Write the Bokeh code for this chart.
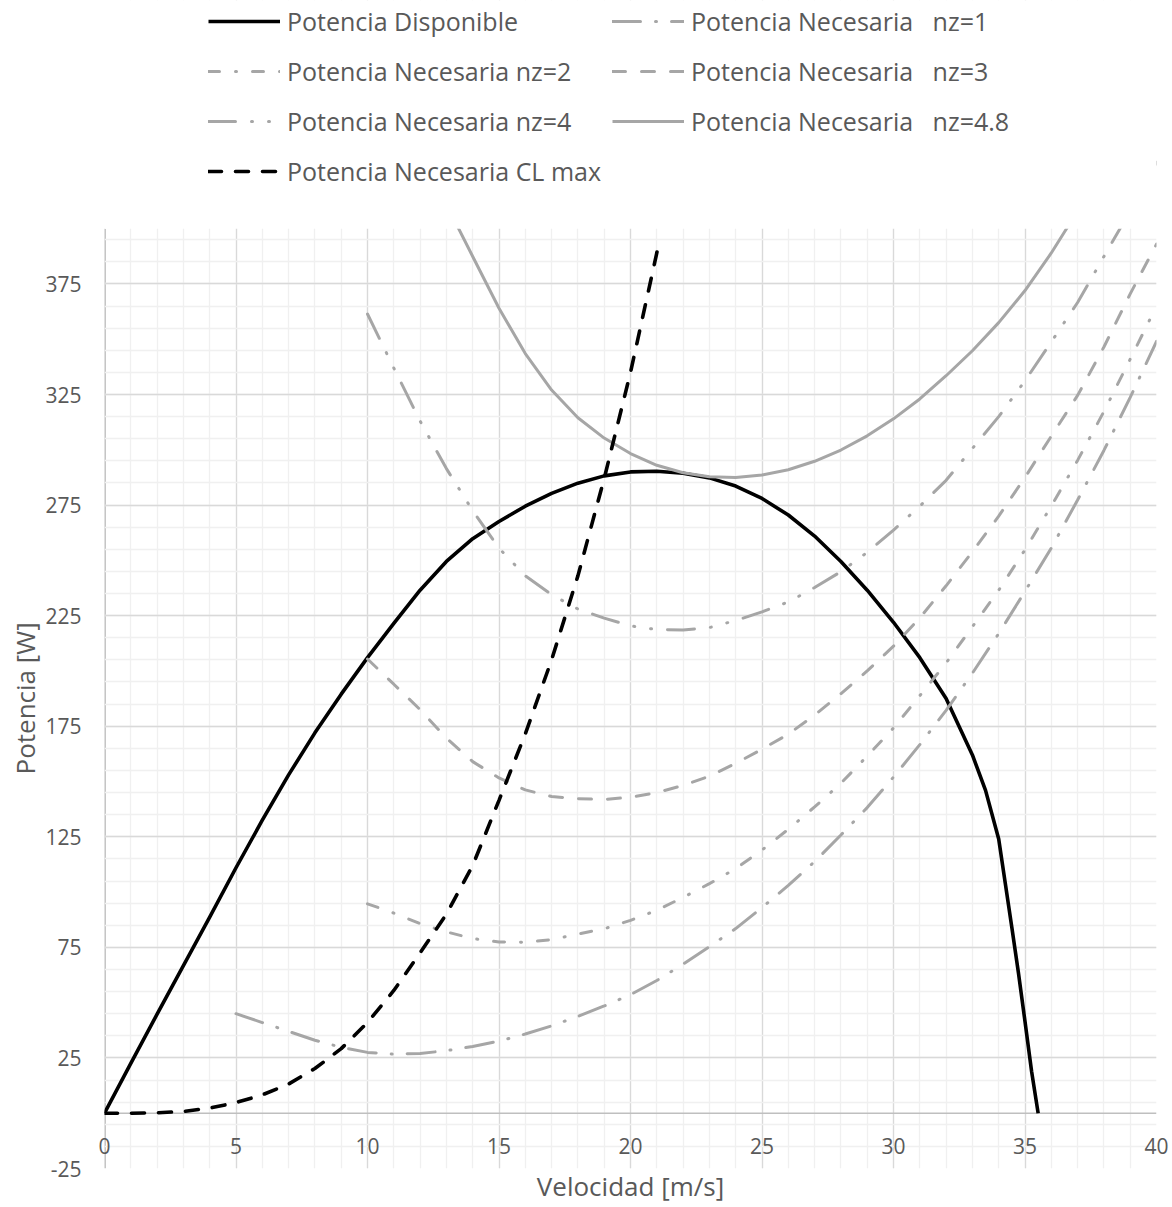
from bokeh.plotting import figure
from bokeh.models import (Range1d, FixedTicker, LinearAxis, Legend, LegendItem, Span,
                          BoxAnnotation, Title)
from bokeh.embed import file_html
from bokeh.resources import INLINE

# ---------------- data ----------------
v_disp = [0, 1, 2, 3, 4, 5, 6, 7, 8, 9, 10, 11, 12, 13, 14, 15, 16, 17, 18, 19, 20,
          21, 22, 23, 24, 25, 26, 27, 28, 29, 30, 31, 32, 33, 33.5, 34, 34.25, 34.5,
          34.75, 35, 35.25, 35.5]
p_disp = [0, 22.5, 44.8, 66.7, 88.7, 111, 132.5, 153, 172, 189.5, 206, 221.5, 236.5,
          249.5, 259.8, 267.6, 274.5, 280.3, 284.9, 288.2, 290, 290.3, 289.4, 287.3,
          283.6, 278, 270.5, 261, 249.5, 236.5, 222, 206, 187.5, 162, 146, 124, 104, 84,
          63.5, 41.5, 19, 0]

v_nz1 = [5, 6, 7, 8, 9, 10, 11, 12, 13, 14, 15, 16, 17, 18, 19, 20, 21, 22, 23, 24, 25,
         26, 27, 28, 29, 30, 31, 32, 33, 34, 35, 36, 37, 38, 39, 40]
p_nz1 = [45, 41, 37, 33, 29.8, 27.5, 26.7, 27, 28.3, 30.2, 32.6, 35.8, 39.5, 43.8, 48.5,
         53.6, 60, 67.4, 75.3, 83.5, 93, 103, 113.8, 125.8, 138.2, 152, 166.7, 182.2, 199,
         216.9, 236, 255.6, 277.3, 299.7, 323.7, 349]

v_nz2 = [10, 11, 12, 13, 14, 15, 16, 17, 18, 19, 20, 21, 22, 23, 24, 25, 26, 27, 28, 29,
         30, 31, 32, 33, 34, 35, 36, 37, 38, 39, 40]
p_nz2 = [94.7, 90.5, 85.7, 82, 79, 77.4, 77.3, 78.5, 81, 83.4, 87.2, 91.8, 97.6, 103.8,
         110.6, 119, 128.4, 138.5, 149.2, 161.5, 174.2, 188.8, 203.6, 220, 236.5, 254.8,
         274.6, 295.2, 317.3, 341, 365]

v_nz3 = [10, 11, 12, 13, 14, 15, 16, 17, 18, 19, 20, 21, 22, 23, 24, 25, 26, 27, 28, 29,
         30, 31, 32, 33, 34, 35, 36, 37, 38, 39, 40]
p_nz3 = [205.4, 194, 182.5, 169.6, 159, 151.6, 146.2, 143.2, 142.2, 141.9, 142.9, 145,
         148.2, 152.4, 158.2, 164.6, 171.4, 180, 189.7, 200, 211.2, 224, 238.5, 253.9,
         270, 287.5, 306.2, 324.6, 346.5, 370.5, 393]

v_nz4 = [10, 11, 12, 13, 14, 15, 16, 17, 18, 19, 20, 21, 22, 23, 24, 25, 26, 27, 28, 29,
         30, 31, 32, 33, 34, 35, 36, 37, 38, 39, 40]
p_nz4 = [361.4, 337, 313, 291.5, 272.5, 255.5, 243, 234.5, 228, 223.9, 220.4, 218.7,
         218.5, 219.6, 222.8, 226.7, 231.2, 237.7, 244.9, 253.6, 263.7, 274.5, 286.2,
         300.6, 315, 331.2, 348.8, 366.6, 387.4, 408, 430]

v_nz48 = [13, 14, 15, 16, 17, 18, 19, 20, 21, 22, 23, 24, 25, 26, 27, 28, 29, 30, 31, 32,
          33, 34, 35, 36, 37]
p_nz48 = [411, 387.4, 364, 343.5, 327, 314.5, 305.3, 298.3, 293, 289.6, 287.8, 287.5,
          288.6, 291, 294.8, 299.9, 306.3, 314, 323, 333.5, 344.8, 357.5, 372, 389, 408]

v_clmax = [0, 1, 2, 3, 4, 5, 6, 7, 8, 9, 10, 11, 12, 13, 14, 15, 16, 17, 18, 19, 20, 21, 21.1]
p_clmax = [0, 0, 0.2, 0.8, 2.3, 4.8, 8.3, 13.2, 20.2, 29.2, 41, 55.5, 72.5, 90, 112, 141.5,
           171.5, 205, 243, 287, 335, 389, 395]

x_ticks = [0, 5, 10, 15, 20, 25, 30, 35, 40]
x_minor = list(range(0, 41))
y_ticks = [-25, 25, 75, 125, 175, 225, 275, 325, 375]
y_minor = list(range(-25, 400, 10))
Y_MIN, Y_MAX = -25, 400

labels = ["Potencia Disponible", "Potencia Necesaria   nz=1", "Potencia Necesaria nz=2",
          "Potencia Necesaria   nz=3", "Potencia Necesaria nz=4", "Potencia Necesaria   nz=4.8",
          "Potencia Necesaria CL max"]

# ---------------- styling ----------------
FONT = "Open Sans"
TXT = "#595959"
GRAY = "#a6a6a6"
AXIS_GRAY = "#bfbfbf"
FS_TICK = "21px"
FS_TITLE = "26px"
FS_LEG = "25px"

FRAME_H = 1168
PX_PER_UNIT = 2.2114
y_top = Y_MIN + FRAME_H / PX_PER_UNIT   # room above the plot area for the legend

p = figure(frame_width=1052, frame_height=FRAME_H,
           x_range=Range1d(0, 40), y_range=Range1d(Y_MIN, y_top),
           output_backend="svg", toolbar_location=None,
           min_border_left=104, min_border_top=0, min_border_right=16, min_border_bottom=20,
           x_axis_location=None, y_axis_location=None)
p.outline_line_color = None
p.background_fill_color = "white"

xt = FixedTicker(ticks=x_ticks, minor_ticks=x_minor)
yt = FixedTicker(ticks=y_ticks, minor_ticks=y_minor)
# vertical grid without the line at x = 0 (that one is the value axis line)
xgt = FixedTicker(ticks=x_ticks[1:], minor_ticks=x_minor[1:])

# x axis: labels pulled up into the plot, next to the line at y = 0
xax = LinearAxis(ticker=xt, axis_label="Velocidad [m/s]")
xax.axis_line_color = None
xax.major_tick_line_color = None
xax.minor_tick_line_color = None
xax.major_tick_out = 0
xax.minor_tick_out = 0
xax.major_label_standoff = -31
xax.major_label_text_font = FONT
xax.major_label_text_font_size = FS_TICK
xax.major_label_text_color = TXT
xax.axis_label_standoff = 11
xax.axis_label_text_font = FONT
xax.axis_label_text_font_size = FS_TITLE
xax.axis_label_text_font_style = "normal"
xax.axis_label_text_color = TXT
p.add_layout(xax, "below")

yax = LinearAxis(ticker=yt)
yax.axis_line_color = None
yax.major_tick_line_color = None
yax.minor_tick_line_color = None
yax.major_tick_out = 0
yax.minor_tick_out = 0
yax.major_label_standoff = 23
yax.major_label_overrides = {-25: "-25"}
yax.major_label_text_font = FONT
yax.major_label_text_font_size = FS_TICK
yax.major_label_text_color = TXT
p.add_layout(yax, "left")

# value-axis title, centred on the visible plot area (not the legend area)
ytitle = Title(text="Potencia [W]", align="left", offset=394, standoff=0,
               text_font=FONT, text_font_size=FS_TITLE, text_font_style="normal",
               text_color=TXT)
p.add_layout(ytitle, "left")

p.xgrid.ticker = xgt
p.ygrid.ticker = yt
for g in (p.xgrid[0], p.ygrid[0]):
    g.grid_line_color = "#d9d9d9"
    g.grid_line_width = 1.3
    g.minor_grid_line_color = "#f0f0f0"
    g.minor_grid_line_width = 1.3

# axis lines: horizontal one crosses at 0, vertical one spans the value range
p.add_layout(Span(location=0, dimension="width", line_color=AXIS_GRAY, line_width=1.5,
                  level="underlay"))
p.segment(x0=[x_ticks[0]], y0=[Y_MIN], x1=[x_ticks[0]], y1=[Y_MAX],
          line_color=AXIS_GRAY, line_width=2.8, level="underlay")

# ---------------- series ----------------
r_disp = p.line(v_disp, p_disp, line_color="black", line_width=3.6, line_join="round")
r_nz1 = p.line(v_nz1, p_nz1, line_color=GRAY, line_width=3, line_dash="28 15 1 15",
               line_cap="round")
r_nz2 = p.line(v_nz2, p_nz2, line_color=GRAY, line_width=3, line_dash="11 16 1 16",
               line_cap="round")
r_nz3 = p.line(v_nz3, p_nz3, line_color=GRAY, line_width=3, line_dash="13 16",
               line_cap="round")
r_nz4 = p.line(v_nz4, p_nz4, line_color=GRAY, line_width=3, line_dash="27 16 1 16 1 16",
               line_cap="round")
r_nz48 = p.line(v_nz48, p_nz48, line_color=GRAY, line_width=3, line_join="round")
r_cl = p.line(v_clmax, p_clmax, line_color="black", line_width=3.6, line_dash="13 14",
              line_cap="round")

# blank out everything above the top of the value axis (legend area)
p.add_layout(BoxAnnotation(bottom=Y_MAX, fill_color="white", fill_alpha=1,
                           line_color=None))


def mk_legend(items, loc):
    lg = Legend(items=items, location=loc, orientation="vertical")
    lg.glyph_width = 72
    lg.glyph_height = 40
    lg.label_height = 40
    lg.label_standoff = 7
    lg.spacing = 10
    lg.padding = 0
    lg.margin = 0
    lg.border_line_color = None
    lg.background_fill_alpha = 0
    lg.label_text_font = FONT
    lg.label_text_font_size = FS_LEG
    lg.label_text_color = TXT
    return lg


leg1 = mk_legend([LegendItem(label=labels[0], renderers=[r_disp]),
                  LegendItem(label=labels[2], renderers=[r_nz2]),
                  LegendItem(label=labels[4], renderers=[r_nz4]),
                  LegendItem(label=labels[6], renderers=[r_cl])], (104, 977))
leg2 = mk_legend([LegendItem(label=labels[1], renderers=[r_nz1]),
                  LegendItem(label=labels[3], renderers=[r_nz3]),
                  LegendItem(label=labels[5], renderers=[r_nz48])], (508, 1027))
p.add_layout(leg1, "center")
p.add_layout(leg2, "center")

open("out.html", "w").write(file_html(p, INLINE))
